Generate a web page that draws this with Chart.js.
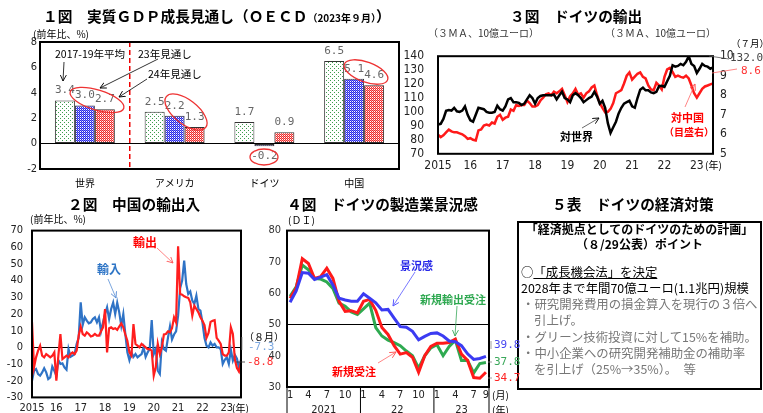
<!DOCTYPE html>
<html lang="ja">
<head>
<meta charset="utf-8">
<script src="https://cdn.jsdelivr.net/npm/chart.js@4.4.0/dist/chart.umd.min.js"></script>
<style>
  body { margin: 0; width: 763px; height: 413px; position: relative; overflow: hidden; background: #fff;
         font-family: "Noto Sans CJK JP", sans-serif; color: #000; }
  canvas { position: absolute; }
  .t { position: absolute; white-space: nowrap; line-height: 1; }
  .b { font-weight: bold; }
  .n { font-family: "DejaVu Sans Mono", monospace; }
  #box { position: absolute; left: 517px; top: 221px; width: 241px; height: 165px; border: 2px solid #000; }
  #marks { position: absolute; left: 0; top: 0; }
</style>
</head>
<body>
<canvas id="c1" width="400" height="165" style="left:0;top:30px"></canvas>
<canvas id="c3" width="363" height="140" style="left:400px;top:35px"></canvas>
<canvas id="c2" width="245" height="198" style="left:0;top:215px"></canvas>
<canvas id="c4" width="230" height="195" style="left:262px;top:218px"></canvas>
<div id="box"></div>
<svg id="marks" width="763" height="413">
  <defs>
    <marker id="mk" viewBox="0 0 8 8" refX="7" refY="4" markerWidth="7" markerHeight="7" orient="auto" markerUnits="userSpaceOnUse"><path d="M0,0.5 L7,4 L0,7.5" fill="none" stroke="#000" stroke-width="1"/></marker>
    <marker id="mr" viewBox="0 0 8 8" refX="7" refY="4" markerWidth="7" markerHeight="7" orient="auto" markerUnits="userSpaceOnUse"><path d="M0,0.5 L7,4 L0,7.5" fill="none" stroke="#f55" stroke-width="1"/></marker>
    <marker id="mb" viewBox="0 0 8 8" refX="7" refY="4" markerWidth="7" markerHeight="7" orient="auto" markerUnits="userSpaceOnUse"><path d="M0,0.5 L7,4 L0,7.5" fill="none" stroke="#5b8fd6" stroke-width="1"/></marker>
    <marker id="mv" viewBox="0 0 8 8" refX="7" refY="4" markerWidth="7" markerHeight="7" orient="auto" markerUnits="userSpaceOnUse"><path d="M0,0.5 L7,4 L0,7.5" fill="none" stroke="#5555ff" stroke-width="1"/></marker>
    <marker id="mg" viewBox="0 0 8 8" refX="7" refY="4" markerWidth="7" markerHeight="7" orient="auto" markerUnits="userSpaceOnUse"><path d="M0,0.5 L7,4 L0,7.5" fill="none" stroke="#3aa85a" stroke-width="1"/></marker>
  </defs>
  <g fill="none" stroke-width="0.8">
    <!-- 1図 -->
    <line x1="64" y1="62" x2="63" y2="81" stroke="#000" marker-end="url(#mk)"/>
    <line x1="158" y1="59" x2="100" y2="88" stroke="#000" marker-end="url(#mk)"/>
    <line x1="147" y1="79" x2="119" y2="97" stroke="#000" marker-end="url(#mk)"/>
    <g stroke="#e33" stroke-width="1.3">
      <ellipse cx="97" cy="100" rx="28" ry="10" transform="rotate(17 97 100)"/>
      <ellipse cx="186" cy="112" rx="25" ry="12" transform="rotate(38 186 112)"/>
      <ellipse cx="264" cy="157" rx="14" ry="8"/>
      <ellipse cx="366" cy="72" rx="23" ry="10" transform="rotate(20 366 72)"/>
    </g>
    <!-- 3図 -->
    <line x1="582" y1="128" x2="599" y2="118" stroke="#444" marker-end="url(#mk)"/>
    <line x1="685" y1="107" x2="695" y2="84" stroke="#f66" marker-end="url(#mr)"/>
    <line x1="709" y1="56" x2="729" y2="59" stroke="#555"/>
    <line x1="712" y1="73" x2="737" y2="69" stroke="#f66"/>
    <!-- 2図 -->
    <line x1="157" y1="248" x2="173" y2="263" stroke="#f66" marker-end="url(#mr)"/>
    <line x1="108" y1="279" x2="116" y2="298" stroke="#5b8fd6" marker-end="url(#mb)"/>
    <line x1="242" y1="337" x2="242" y2="350" stroke="#888"/>
    <line x1="236" y1="362" x2="245" y2="362" stroke="#333"/>
    <!-- 4図 -->
    <line x1="415" y1="272" x2="393" y2="306" stroke="#5555ff" marker-end="url(#mv)"/>
    <line x1="457" y1="306" x2="455" y2="336" stroke="#3aa85a" marker-end="url(#mg)"/>
    <line x1="378" y1="363" x2="396" y2="352" stroke="#f66" marker-end="url(#mr)"/>
    <line x1="491" y1="341" x2="491" y2="349" stroke="#888"/>
    <line x1="488" y1="362" x2="492" y2="362" stroke="#888"/>
    <line x1="488" y1="378" x2="492" y2="378" stroke="#888"/>
  </g>
</svg>
<script>
// 1図 実質GDP成長見通し
const regions = ['世界', 'アメリカ', 'ドイツ', '中国'];
const avg1719 = [3.4, 2.5, 1.7, 6.5];
const fc23 = [3.0, 2.2, -0.2, 5.1];
const fc24 = [2.7, 1.3, 0.9, 4.6];

// 3図 ドイツの輸出 (2015/1 - 2023/7, 3MA)
const years3 = ['2015', '16', '17', '18', '19', '20', '21', '22', '23'];
const world3 = [
  91, 91.5, 95, 100.8, 101.4, 101, 103, 100.5, 100, 101, 104, 98,
  94, 93, 98, 103, 102.5, 102, 100, 99.5, 99.5, 100, 104.5, 102,
  101, 104, 109, 110, 107, 107, 106.5, 105, 106, 109, 112, 110,
  106, 110, 111.5, 112, 112, 112, 112, 112.5, 109, 112, 114.5, 110,
  109, 107, 112, 113.5, 112, 110, 107, 108.5, 110, 111, 114.5, 111,
  106, 108, 103, 92, 85, 89, 93, 99, 103, 106, 107, 108,
  104, 103, 110, 116, 117.5, 115.5, 115.5, 114, 113.5, 114.5, 118.5, 118.8,
  118, 122, 126, 133.5, 132.5, 133, 134.5, 133.5, 136, 140, 134.5, 133,
  128, 131, 134.5, 133, 132.5, 131, 132.0
];
const china3 = [
  5.98, 5.85, 5.95, 6.1, 6.24, 6.15, 6.1, 6.1, 6.05, 6.0, 5.9, 5.76,
  5.8, 5.72, 5.68, 6.2, 6.25, 6.45, 6.5, 6.45, 6.6, 6.55, 6.9, 7.0,
  6.74, 6.85, 6.9, 7.27, 7.2, 7.5, 7.45, 7.5, 7.5, 7.73, 7.6, 7.42,
  7.42, 7.5, 7.73, 7.88, 8.05, 8.1, 8.0, 8.18, 8.1, 8.2, 8.33, 8.0,
  7.65, 7.95, 8.1, 8.33, 8.03, 8.1, 7.88, 8.1, 8.2, 8.4, 8.5, 8.0,
  7.6, 7.35, 7.12, 7.15, 7.3, 7.6, 8.1, 8.18, 8.26, 8.6, 9.0, 9.17,
  8.8, 8.95, 9.1, 9.17, 8.94, 8.86, 8.5, 8.3, 8.26, 8.64, 8.5, 8.3,
  8.94, 9.32, 9.4, 9.2, 8.94, 9.0, 8.94, 8.9, 9.0, 8.86, 8.5, 8.1,
  7.88, 8.1, 8.33, 8.45, 8.5, 8.56, 8.6
];

// 2図 中国の輸出入 (2015/1 - 2023/8, 前年比%)
const years2 = ['2015', '16', '17', '18', '19', '20', '21', '22', '23'];
const exports2 = [
  15, -12, -6, -2, 1, -5, -6, -4, -5, -6, -5, -3,
  -20, -5, 8, -7, -6, -5, -6, -4, -3, -4, -2, 7,
  12.5, 8, 7, 9, 8, 6.5, 7, 8, 7, 7, 9.6, 12,
  23, -3, 11.5, 12, 11, 11.5, 10.5, 12.5, 14.4, 12, 7.7, 4,
  -3, -5, 14, 2, 1, 0, 2, 1, 0, -1, -1, -2,
  -17, -12, 2, -4, 0, 7.7, 8, 9.6, 9, 11.5, 18, 15,
  60.6, 32, 31.6, 30.6, 30, 29.7, 27, 19, 25, 23, 21, 18,
  16, 13.4, 5.7, 8.6, 15.3, 16, 16.3, 5.7, 4, 2, -4, -5,
  -5, -3, 12, 8, -7.5, -12.4, -14.5, -8.8
];
const imports2 = [
  -20, -14, -13, -16, -17, -15, -12.5, -15, -19, -18, -11.5, -14,
  -17, -7.7, -10, -9.6, -12, -13.4, -1, -5.7, -5, -4, 2, 5.7,
  27, 13.4, 18, 16, 14.4, 15, 17, 18, 15, 18, 9.6, 15,
  20, 24, 17, 23, 26.8, 20, 26.8, 21, 13, 20, 8, -3,
  -7.7, -3, -5.7, -4, -6, -5, -4, 0, -5.7, -3, -1, 16.3,
  -4, -1, -14, -16, 3, -1, -2, 5.7, 12.5, 4.7, 7.7, 9.6,
  19, 35.4, 40, 52, 38, 32, 33.5, 28, 26, 31, 23, 22,
  15, 5.7, 1, 0, 3, 1, 2, 0, 0, -1, -10, -7.5,
  -6, -10, -1.4, -7.9, -4.5, -6.8, -12.4, -7.3
];

// 4図 ドイツの製造業景況感 (2021/1 - 2023/9, DI)
const years4 = ['2021', '22', '23'];
const pmi4 = [
  57.1, 60.7, 66.6, 66.4, 64.4, 65.1, 65.9, 62.6, 58.4, 57.8, 57.4, 57.4,
  59.8, 58.4, 56.9, 54.6, 54.8, 52.0, 49.3, 49.1, 47.8, 45.1, 46.2, 47.1,
  47.3, 46.3, 44.7, 44.5, 43.2, 40.6, 38.8, 39.1, 39.8
];
const orders4 = [
  58.4, 61.6, 71, 69.5, 64.7, 65.3, 68, 64.7, 57.4, 54.2, 54.4, 53.7,
  57.4, 58, 54.5, 49, 46.8, 43.2, 40.5, 41, 39.5, 34.7, 40, 43,
  44, 44, 44.2, 45.3, 40.5, 38.5, 33, 32.8, 34.7
];
const exportOrders4 = [
  59, 62, 69, 67.5, 64.7, 64.5, 63.6, 61.5, 56.8, 55.8, 54, 53.2,
  55, 56.8, 49, 46.3, 45, 44.2, 43.2, 41.5, 40, 36, 40, 42.5,
  43.5, 40, 43, 45, 38.5, 38.5, 34.5, 37.5, 37.8
];

function monthLabels(years, count) {
  const out = [];
  for (let i = 0; i < count; i++) out.push(years[Math.floor(i / 12)] + '-' + (i % 12 + 1));
  return out;
}
const months3 = monthLabels(years3, world3.length);
const months2 = monthLabels(years2, exports2.length);
const months4 = monthLabels(years4, pmi4.length);

const NARROW = '"Liberation Sans Narrow", "DejaVu Sans Condensed", "Liberation Sans", Arial, sans-serif';
const CJK = '"Noto Sans CJK JP", sans-serif';
Chart.defaults.font.family = NARROW;
Chart.defaults.font.size = 11;
Chart.defaults.color = '#222';

function makePattern(kind) {
  const c = document.createElement('canvas');
  const ctx = c.getContext('2d');
  if (kind === 'dots') {
    c.width = 4; c.height = 4;
    ctx.fillStyle = '#fff'; ctx.fillRect(0, 0, 4, 4);
    ctx.fillStyle = '#3c9c4c'; ctx.fillRect(0, 0, 1, 1); ctx.fillRect(2, 2, 1, 1);
  } else {
    c.width = 2; c.height = 2;
    ctx.fillStyle = '#fff'; ctx.fillRect(0, 0, 2, 2);
    ctx.fillStyle = kind === 'blue' ? '#2a2ae0' : '#ee2a2a';
    ctx.fillRect(0, 0, 1, 1); ctx.fillRect(1, 1, 1, 1);
    ctx.fillStyle = kind === 'blue' ? '#7a7aff' : '#f89090';
    ctx.fillRect(1, 0, 1, 1);
  }
  return ctx.createPattern(c, 'repeat');
}

const frame = {
  id: 'frame',
  afterDraw(chart) {
    const a = chart.chartArea, ctx = chart.ctx;
    ctx.save();
    ctx.strokeStyle = '#000';
    ctx.lineWidth = 2;
    ctx.strokeRect(a.left, a.top, a.right - a.left, a.bottom - a.top);
    ctx.restore();
  }
};

const divider = {
  id: 'divider',
  afterDatasetsDraw(chart) {
    const x = chart.scales.x, a = chart.chartArea, ctx = chart.ctx;
    const px = (x.getPixelForValue(0) + x.getPixelForValue(1)) / 2;
    ctx.save();
    ctx.strokeStyle = '#e00';
    ctx.lineWidth = 1.5;
    ctx.setLineDash([5, 3]);
    ctx.beginPath(); ctx.moveTo(px, a.top); ctx.lineTo(px, a.bottom); ctx.stroke();
    ctx.restore();
  }
};

const barValues = {
  id: 'barValues',
  afterDatasetsDraw(chart) {
    const ctx = chart.ctx;
    ctx.save();
    ctx.font = '11px "DejaVu Sans Mono", monospace';
    ctx.fillStyle = '#666';
    ctx.textAlign = 'center';
    ctx.textBaseline = 'middle';
    chart.data.datasets.forEach((ds, i) => {
      chart.getDatasetMeta(i).data.forEach((bar, j) => {
        const v = ds.data[j];
        ctx.fillText(v.toFixed(1), bar.x, v >= 0 ? bar.y - 10 : bar.y + 10);
      });
    });
    ctx.restore();
  }
};

const yearMarks = {
  id: 'yearMarks',
  afterDraw(chart) {
    const x = chart.scales.x, a = chart.chartArea, ctx = chart.ctx;
    const step = x.getPixelForValue(1) - x.getPixelForValue(0);
    ctx.save();
    ctx.strokeStyle = '#000';
    ctx.lineWidth = 1;
    ctx.fillStyle = '#222';
    ctx.font = '11px ' + NARROW;
    ctx.textAlign = 'center';
    ctx.textBaseline = 'middle';
    years4.forEach((yr, k) => {
      const first = k * 12;
      const last = Math.min(first + 11, months4.length - 1);
      const left = x.getPixelForValue(first) - step / 2;
      const right = x.getPixelForValue(last) + step / 2;
      ctx.beginPath(); ctx.moveTo(left, a.bottom); ctx.lineTo(left, chart.height); ctx.stroke();
      if (k === years4.length - 1) {
        ctx.beginPath(); ctx.moveTo(right, a.bottom); ctx.lineTo(right, chart.height); ctx.stroke();
      }
      ctx.fillText(yr, (left + right) / 2, a.bottom + 23);
    });
    ctx.restore();
  }
};

const noPlugins = { legend: { display: false }, tooltip: { enabled: false } };

// 1図
new Chart(document.getElementById('c1'), {
  type: 'bar',
  data: {
    labels: regions,
    datasets: [
      { label: '2017-19年平均', data: avg1719, backgroundColor: makePattern('dots') },
      { label: '23年見通し', data: fc23, backgroundColor: makePattern('blue') },
      { label: '24年見通し', data: fc24, backgroundColor: makePattern('red') }
    ]
  },
  options: {
    animation: false,
    responsive: false,
    layout: { padding: { top: 12, right: 1, left: 0, bottom: 0 } },
    plugins: noPlugins,
    datasets: { bar: { barPercentage: 1, categoryPercentage: 0.668, borderColor: '#333', borderWidth: 1, borderSkipped: false } },
    scales: {
      x: {
        grid: { display: false, drawTicks: false }, border: { display: false },
        ticks: { font: { family: CJK, size: 10 }, color: '#000', padding: 8 },
        afterFit: s => { s.height = 26; }
      },
      y: {
        min: -2, max: 8,
        ticks: { stepSize: 2, padding: 3, color: '#222' },
        grid: { color: c => c.tick.value === 0 ? '#000' : 'transparent', drawTicks: false },
        border: { display: false },
        afterFit: s => { s.width = 40; }
      }
    }
  },
  plugins: [frame, divider, barValues]
});

// 3図
new Chart(document.getElementById('c3'), {
  type: 'line',
  data: {
    labels: months3,
    datasets: [
      { data: world3, borderColor: '#000', borderWidth: 2.5, yAxisID: 'y' },
      { data: china3, borderColor: '#ff1a1a', borderWidth: 2.5, yAxisID: 'y1' }
    ]
  },
  options: {
    animation: false,
    responsive: false,
    elements: { point: { radius: 0 }, line: { tension: 0 } },
    layout: { padding: { top: 8, right: 0, left: 0, bottom: 0 } },
    plugins: noPlugins,
    scales: {
      x: {
        grid: { display: false, drawTicks: false }, border: { display: false },
        ticks: { autoSkip: false, maxRotation: 0, padding: 5, font: { size: 12 },
                 callback: (v, i) => i % 12 === 0 ? years3[i / 12] : '' },
        afterFit: s => { s.height = 21; }
      },
      y: {
        min: 70, max: 140,
        ticks: { stepSize: 10, padding: 14, font: { size: 12 } },
        grid: { display: false, drawTicks: false }, border: { display: false },
        afterFit: s => { s.width = 38; }
      },
      y1: {
        position: 'right', min: 5, max: 10,
        ticks: { stepSize: 1, padding: 7, font: { size: 12 } },
        grid: { display: false, drawTicks: false }, border: { display: false },
        afterFit: s => { s.width = 50; }
      }
    }
  },
  plugins: [frame]
});

// 2図
new Chart(document.getElementById('c2'), {
  type: 'line',
  data: {
    labels: months2,
    datasets: [
      { data: exports2, borderColor: '#ff1e1e', borderWidth: 2.2 },
      { data: imports2, borderColor: '#2f73c6', borderWidth: 2.2 }
    ]
  },
  options: {
    animation: false,
    responsive: false,
    elements: { point: { radius: 0 }, line: { tension: 0 } },
    layout: { padding: { top: 10, right: 4, left: 0, bottom: 0 } },
    plugins: noPlugins,
    scales: {
      x: {
        grid: { display: false, drawTicks: false }, border: { display: false },
        ticks: { autoSkip: false, maxRotation: 0, padding: 4,
                 callback: (v, i) => i % 12 === 0 ? years2[i / 12] : '' },
        afterFit: s => { s.height = 15; }
      },
      y: {
        min: -30, max: 70,
        ticks: { stepSize: 10, padding: 9 },
        grid: { color: c => c.tick.value === 0 ? '#000' : 'transparent', drawTicks: false },
        border: { display: false },
        afterFit: s => { s.width = 32; }
      }
    }
  },
  plugins: [frame]
});

// 4図
new Chart(document.getElementById('c4'), {
  type: 'line',
  data: {
    labels: months4,
    datasets: [
      { data: pmi4, borderColor: '#3b3bf2', borderWidth: 3 },
      { data: orders4, borderColor: '#ff1a1a', borderWidth: 3 },
      { data: exportOrders4, borderColor: '#2eaa50', borderWidth: 3 }
    ]
  },
  options: {
    animation: false,
    responsive: false,
    elements: { point: { radius: 0 }, line: { tension: 0 } },
    layout: { padding: { top: 10, right: 3, left: 0, bottom: 0 } },
    plugins: noPlugins,
    scales: {
      x: {
        offset: true,
        grid: { display: false, drawTicks: false }, border: { display: false },
        ticks: { autoSkip: false, maxRotation: 0, padding: 2,
                 callback: (v, i) => {
                   const m = i % 12 + 1;
                   return (m % 3 === 1 || i === months4.length - 1) ? String(m) : '';
                 } },
        afterFit: s => { s.height = 26; }
      },
      y: {
        min: 30, max: 80,
        ticks: { stepSize: 10, padding: 6, color: '#333' },
        grid: { color: c => c.tick.value === 50 ? '#000' : 'transparent', drawTicks: false },
        border: { display: false },
        afterFit: s => { s.width = 25; }
      }
    }
  },
  plugins: [frame, yearMarks]
});

// texts
function label(text, x, cy, size, color, opts = {}) {
  const d = document.createElement('div');
  d.className = 't' + (opts.bold ? ' b' : '') + (opts.num ? ' n' : '');
  d.innerHTML = text;
  d.style.left = x + 'px';
  d.style.top = (cy - size * 0.55) + 'px';
  d.style.fontSize = size + 'px';
  d.style.color = color || '#000';
  if (opts.center) d.style.transform = 'translateX(-50%)';
  document.body.appendChild(d);
}

label('１図　実質ＧＤＰ成長見通し（ＯＥＣＤ<span style="font-size:10px">（2023年９月）</span>）', 43, 17, 14.7, '#000', { bold: true });
label('(前年比、%)', 33, 34, 10);
label('2017-19年平均', 55, 55, 10.5);
label('23年見通し', 138, 55, 10.5);
label('24年見通し', 148, 75, 10.5);

label('３図　ドイツの輸出', 510, 17, 14.7, '#000', { bold: true });
label('（３ＭＡ、10億ユーロ）', 428, 33, 10, '#333');
label('（３ＭＡ、10億ユーロ）', 605, 33, 10, '#333');
label('（７月）', 731, 44, 9.5);
label('132.0', 730, 58, 11, '#444', { num: true });
label('8.6', 741, 71, 11, '#f33', { num: true });
label('対世界', 560, 137, 11, '#000', { bold: true });
label('対中国', 671, 118, 11, '#f00', { bold: true });
label('（目盛右）', 664, 132, 10, '#f00', { bold: true });
label('(年)', 705, 165, 10);

label('２図　中国の輸出入', 68, 205, 14.7, '#000', { bold: true });
label('(前年比、%)', 30, 219, 10);
label('（８月）', 244, 337, 10);
label('-7.3', 248, 347, 11, '#7ba7df', { num: true });
label('-8.8', 247, 362, 11, '#f33', { num: true });
label('輸出', 133, 243, 12, '#f00', { bold: true });
label('輸入', 97, 270, 12, '#2e75c6', { bold: true });
label('(年)', 232, 408, 10);

label('４図　ドイツの製造業景況感', 287, 205, 14.7, '#000', { bold: true });
label('(ＤＩ)', 288, 220, 10);
label('39.8', 494, 345, 11, '#4646f0', { num: true });
label('37.8', 494, 362, 11, '#3aa85a', { num: true });
label('34.7', 494, 378, 11, '#f22', { num: true });
label('(月)', 492, 395, 10);
label('(年)', 492, 410, 10);
label('景況感', 400, 266, 11, '#2828e8', { bold: true });
label('新規輸出受注', 420, 300, 11, '#2ea850', { bold: true });
label('新規受注', 332, 372, 11, '#f00', { bold: true });

label('５表　ドイツの経済対策', 552, 205, 14.7, '#000', { bold: true });
label('「経済拠点としてのドイツのための計画」', 639.5, 230, 12, '#000', { bold: true, center: true });
label('（８/29公表）ポイント', 639.5, 245, 12, '#000', { bold: true, center: true });
label('○<u>「成長機会法」を決定</u>', 521, 273, 12.4);
label('2028年まで年間70億ユーロ(1.1兆円)規模', 521, 289, 12.4);
label('・研究開発費用の損金算入を現行の３倍へ', 522, 305, 12.4, '#777');
label('引上げ。', 534, 321, 12.4, '#777');
label('・グリーン技術投資に対して15%を補助。', 522, 338, 12.4, '#777');
label('・中小企業への研究開発補助金の補助率', 522, 354, 12.4, '#777');
label('を引上げ（25%→35%）。　等', 534, 370, 12.4, '#777');
</script>
</body>
</html>
